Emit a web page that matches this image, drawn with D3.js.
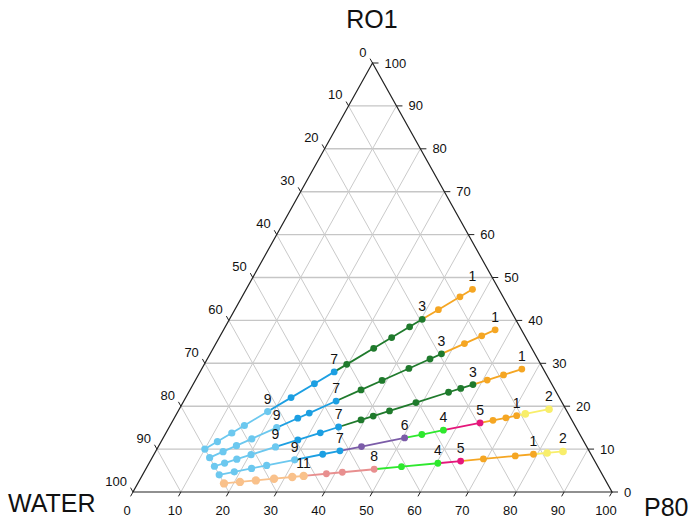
<!DOCTYPE html>
<html lang="en">
<head>
    <meta charset="UTF-8">
    <title>ternary plot</title>
    <script src="https://cdn.jsdelivr.net/npm/d3@7"></script>
    <style>
        body{
            margin: 0;
            background: #ffffff;
        }
        text{
            font-family: "Liberation Sans", Arial, sans-serif;
            fill: #111;
        }
    </style>
</head>
<body>
<svg id="main" width="691" height="525"></svg>

<script>
    // axis ticks
    let ticks = [0, 10, 20, 30, 40, 50, 60, 70, 80, 90, 100];

    // phase colours
    let phaseColors = {
        Y: "#f8ee6a",
        O: "#f5a623",
        G: "#1f7a2c",
        M: "#e5177b",
        N: "#2ee82e",
        P: "#7b5ca8",
        B: "#1c9fe2",
        L: "#6cc8ef",
        K: "#e88f8f",
        C: "#f9c18b"
    };

    // RO1 : P80 = 50 : 50
    let ro1_A = [47.25, 45.5, 42.5, 40.25, 38.5, 36, 33.5, 29.75, 28, 25.25, 22, 18.75, 15.5, 13.75, 11.75, 10];
    let p80_A = [47.25, 45.5, 42.5, 40.25, 38.5, 36, 33.5, 29.75, 28, 25.25, 22, 18.75, 15.5, 13.75, 11.75, 10];
    let phase_A = ["O","O","O","G","G","G","G","G","B","B","B","L","L","L","L","L"];
    let labels_A = [[0,"1"],[3,"3"],[8,"7"],[11,"9"]];

    // RO1 : P80 = 40 : 60
    let ro1_B = [37.8, 36.4, 34.6, 32.2, 31, 28.8, 26, 23.8, 21.2, 18.4, 17.2, 15, 12.4, 10.8, 9.4, 8];
    let p80_B = [56.7, 54.6, 51.9, 48.3, 46.5, 43.2, 39, 35.7, 31.8, 27.6, 25.8, 22.5, 18.6, 16.2, 14.1, 12];
    let phase_B = ["O","O","O","G","G","G","G","G","B","B","B","L","L","L","L","L"];
    let labels_B = [[0,"1"],[3,"3"],[8,"7"],[11,"9"]];

    // RO1 : P80 = 30 : 70
    let ro1_C = [28.65, 27.3, 26.1, 25.05, 24.15, 23.25, 20.85, 18.9, 17.7, 16.8, 15.15, 13.8, 12.15, 10.5, 8.7, 7.65, 6.75, 6];
    let p80_C = [66.85, 63.7, 60.9, 58.45, 56.35, 54.25, 48.65, 44.1, 41.3, 39.2, 35.35, 32.2, 28.35, 24.5, 20.3, 17.85, 15.75, 14];
    let phase_C = ["O","O","O","G","G","G","G","G","G","G","B","B","B","L","L","L","L","L"];
    let labels_C = [[0,"1"],[3,"3"],[10,"7"],[13,"9"]];

    // RO1 : P80 = 20 : 80
    let ro1_D = [19.3, 18.2, 17.8, 17.3, 16.7, 16.1, 14.4, 13.4, 12.6, 10.6, 9.6, 8.8, 7.5, 6.2, 5.5, 4.7, 4];
    let p80_D = [77.2, 72.8, 71.2, 69.2, 66.8, 64.4, 57.6, 53.6, 50.4, 42.4, 38.4, 35.2, 30, 24.8, 22, 18.8, 16];
    let phase_D = ["Y","Y","O","O","O","M","N","N","P","P","B","B","L","L","L","L","L"];
    let labels_D = [[0,"2"],[2,"1"],[5,"5"],[6,"4"],[8,"6"],[10,"7"],[12,"9"]];

    // RO1 : P80 = 10 : 90
    let ro1_E = [9.45, 9.1, 8.8, 8.4, 7.7, 7.2, 6.7, 5.9, 5.3, 4.6, 4.25, 3.75, 3.5, 3.1, 2.7, 2.35, 2];
    let p80_E = [85.05, 81.9, 79.2, 75.6, 69.3, 64.8, 60.3, 53.1, 47.7, 41.4, 38.25, 33.75, 31.5, 27.9, 24.3, 21.15, 18];
    let phase_E = ["Y","Y","O","O","O","M","N","N","K","K","K","C","C","C","C","C","C"];
    let labels_E = [[0,"2"],[2,"1"],[5,"5"],[6,"4"],[8,"8"],[11,"11"]];

    let rows = [
        [ro1_A, p80_A, phase_A, labels_A],
        [ro1_B, p80_B, phase_B, labels_B],
        [ro1_C, p80_C, phase_C, labels_C],
        [ro1_D, p80_D, phase_D, labels_D],
        [ro1_E, p80_E, phase_E, labels_E]
    ];

    let svg = d3.select("#main");

    // scales: x runs along the P80 base, y is the RO1 height
    let xScale = d3.scaleLinear().domain([0, 100]).range([133, 612]);
    let yScale = d3.scaleLinear().domain([0, 100]).range([492, 63]);

    function px(ro1, p80){ return xScale(p80 + ro1 / 2); }
    function py(ro1){ return yScale(ro1); }

    let grid = svg.append("g");
    let inner = ticks.slice(1, -1);

    // constant RO1 (horizontal)
    grid.selectAll(".gr").data(inner).enter().append("line")
        .attr("x1", d => px(d, 0)).attr("y1", d => py(d))
        .attr("x2", d => px(d, 100 - d)).attr("y2", d => py(d))
        .attr("stroke", "#c6c6c6").attr("stroke-width", 1.4);
    // constant P80
    grid.selectAll(".gp").data(inner).enter().append("line")
        .attr("x1", d => px(0, d)).attr("y1", py(0))
        .attr("x2", d => px(100 - d, d)).attr("y2", d => py(100 - d))
        .attr("stroke", "#cacaca").attr("stroke-width", 1);
    // constant WATER
    grid.selectAll(".gw").data(inner).enter().append("line")
        .attr("x1", d => px(100 - d, 0)).attr("y1", d => py(100 - d))
        .attr("x2", d => px(0, 100 - d)).attr("y2", py(0))
        .attr("stroke", "#cacaca").attr("stroke-width", 1);

    // triangle
    svg.append("path")
        .attr("d", "M" + px(100, 0) + "," + py(100) + "L" + px(0, 0) + "," + py(0) + "L" + px(0, 100) + "," + py(0) + "Z")
        .attr("fill", "none").attr("stroke", "#222").attr("stroke-width", 1.2);

    let axes = svg.append("g");
    let tl = 5;

    // bottom axis: P80
    axes.selectAll(".tb").data(ticks).enter().append("line")
        .attr("x1", d => px(0, d)).attr("y1", py(0))
        .attr("x2", d => px(0, d) - tl * 0.49).attr("y2", py(0) + tl * 0.87)
        .attr("stroke", "#222");
    axes.selectAll(".lb").data(ticks).enter().append("text")
        .attr("x", d => px(0, d) - 6).attr("y", py(0) + 22.5)
        .attr("text-anchor", "middle").attr("font-size", 13)
        .text(d => d);

    // left axis: WATER
    axes.selectAll(".tl").data(ticks).enter().append("line")
        .attr("x1", d => px(100 - d, 0)).attr("y1", d => py(100 - d))
        .attr("x2", d => px(100 - d, 0) - tl * 0.49).attr("y2", d => py(100 - d) - tl * 0.87)
        .attr("stroke", "#222");
    axes.selectAll(".ll").data(ticks).enter().append("text")
        .attr("x", d => px(100 - d, 0) - 6).attr("y", d => py(100 - d) - 6.5)
        .attr("text-anchor", "end").attr("font-size", 13)
        .text(d => d);

    // right axis: RO1
    axes.selectAll(".tr").data(ticks).enter().append("line")
        .attr("x1", d => px(d, 100 - d)).attr("y1", d => py(d))
        .attr("x2", d => px(d, 100 - d) + tl + 1).attr("y2", d => py(d))
        .attr("stroke", "#222");
    axes.selectAll(".lr").data(ticks).enter().append("text")
        .attr("x", d => px(d, 100 - d) + 12).attr("y", d => py(d) + 4.5)
        .attr("text-anchor", "start").attr("font-size", 13)
        .text(d => d);

    // vertex titles
    svg.append("text").attr("x", 372).attr("y", 28).attr("text-anchor", "middle")
        .attr("font-size", 25).text("RO1");
    svg.append("text").attr("x", 8).attr("y", 512).attr("text-anchor", "start")
        .attr("font-size", 25).text("WATER");
    svg.append("text").attr("x", 644).attr("y", 516).attr("text-anchor", "start")
        .attr("font-size", 25).text("P80");

    // dilution lines
    let marks = svg.append("g");
    let dotSize = {Y: 3.8, C: 4.2, L: 3.6};

    rows.forEach(function (row){
        let ro1 = row[0], p80 = row[1], phase = row[2];
        let segs = d3.range(ro1.length - 1);
        marks.append("g").selectAll("line").data(segs).enter().append("line")
            .attr("x1", i => px(ro1[i], p80[i])).attr("y1", i => py(ro1[i]))
            .attr("x2", i => px(ro1[i + 1], p80[i + 1])).attr("y2", i => py(ro1[i + 1]))
            .attr("stroke", i => phaseColors[phase[i]])
            .attr("stroke-width", 1.8);
    });

    rows.forEach(function (row){
        let ro1 = row[0], p80 = row[1], phase = row[2], labels = row[3];
        marks.append("g").selectAll("circle").data(d3.range(ro1.length)).enter().append("circle")
            .attr("cx", i => px(ro1[i], p80[i])).attr("cy", i => py(ro1[i]))
            .attr("r", i => dotSize[phase[i]] || 3.4)
            .attr("fill", i => phaseColors[phase[i]]);
        marks.append("g").selectAll("text").data(labels).enter().append("text")
            .attr("x", d => px(ro1[d[0]], p80[d[0]]))
            .attr("y", d => py(ro1[d[0]]) - 8)
            .attr("text-anchor", "middle").attr("font-size", 14)
            .text(d => d[1]);
    });
</script>
</body>
</html>
